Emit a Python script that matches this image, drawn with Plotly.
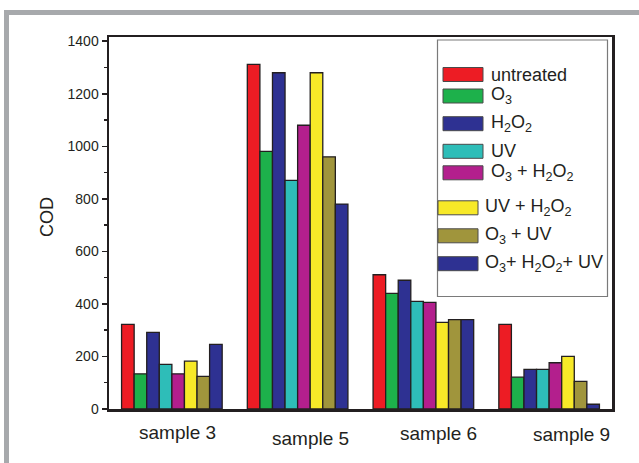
import plotly.graph_objects as go

categories = ["sample 3", "sample 5", "sample 6", "sample 9"]
series_names = ["untreated", "O3", "H2O2", "UV", "O3 + H2O2", "UV + H2O2", "O3 + UV", "O3+ H2O2+ UV"]
legend_labels = [
    "untreated",
    "O<sub>3</sub>",
    "H<sub>2</sub>O<sub>2</sub>",
    "UV",
    "O<sub>3</sub> + H<sub>2</sub>O<sub>2</sub>",
    "UV + H<sub>2</sub>O<sub>2</sub>",
    "O<sub>3</sub> + UV",
    "O<sub>3</sub>+ H<sub>2</sub>O<sub>2</sub>+ UV",
]
untreated = [322, 1312, 511, 322]
o3 = [134, 981, 440, 121]
h2o2 = [292, 1280, 490, 151]
uv = [170, 870, 410, 151]
o3_h2o2 = [134, 1080, 406, 176]
uv_h2o2 = [182, 1280, 330, 200]
o3_uv = [124, 960, 340, 105]
o3_h2o2_uv = [246, 780, 340, 18]
values = [untreated, o3, h2o2, uv, o3_h2o2, uv_h2o2, o3_uv, o3_h2o2_uv]
yticks = [0, 200, 400, 600, 800, 1000, 1200, 1400]

colors = ["#ed1c24", "#1db14b", "#2e3192", "#2ebdb8", "#b31f8d", "#f7e928", "#a0953c", "#2e3192"]
INK = "#231f20"
FONT = "Liberation Sans, Arial, sans-serif"

W, H = 639, 463
L, R, T, B = 109, 612, 37, 409


def px(xp):
    return (xp - L) / (R - L)


def py(yp):
    return (B - yp) / (B - T)


fig = go.Figure()
for name, vals, col in zip(series_names, values, colors):
    fig.add_trace(go.Bar(
        name=name, x=categories, y=vals,
        marker=dict(color=col, line=dict(color=INK, width=1.3)),
        showlegend=False,
    ))

shapes = []
annotations = []

# outer gray frame (top & left)
shapes.append(dict(type="rect", xref="paper", yref="paper",
                   x0=px(6.5), x1=px(700), y0=py(12.5), y1=py(520),
                   line=dict(color="#a7a9ac", width=5), fillcolor="rgba(0,0,0,0)", layer="below"))

# legend box
shapes.append(dict(type="rect", xref="paper", yref="paper",
                   x0=px(437.5), x1=px(607.5), y0=py(40), y1=py(296.5),
                   line=dict(color="#7a7a7a", width=1.2), fillcolor="white"))

leg_rows = [74.5, 96, 123.7, 151.3, 172.8, 207.8, 235.8, 263.7]
leg_sw_x0 = [443, 443, 443, 443, 443, 438, 438, 438]
leg_txt_x = [488.5, 488.5, 488.5, 488.5, 488.5, 483, 483, 483]
for lab, col, yc, sx, tx in zip(legend_labels, colors, leg_rows, leg_sw_x0, leg_txt_x):
    shapes.append(dict(type="rect", xref="paper", yref="paper",
                       x0=px(sx), x1=px(sx + 40), y0=py(yc - 7), y1=py(yc + 7),
                       line=dict(color="#4a4a4a", width=1), fillcolor=col))
    annotations.append(dict(xref="paper", yref="paper", x=px(tx), y=py(yc),
                            xanchor="left", yanchor="middle", showarrow=False,
                            text=lab, font=dict(family=FONT, size=18, color=INK)))

# category labels
lab_dx = [6, 13, 15, 22]
lab_dy = [23, 29, 24, 25]
for cat, dx, dy in zip(categories, lab_dx, lab_dy):
    annotations.append(dict(xref="x", yref="y", x=cat, y=0, xshift=dx, yshift=-dy,
                            xanchor="center", yanchor="middle", showarrow=False,
                            text=cat, font=dict(family=FONT, size=19, color=INK)))

# y-axis title
annotations.append(dict(xref="paper", yref="paper", x=px(47), y=py(217),
                        xanchor="center", yanchor="middle", showarrow=False, textangle=-90,
                        text="COD", font=dict(family=FONT, size=18, color=INK)))

fig.update_layout(
    width=W, height=H,
    margin=dict(l=L, r=W - R, t=T, b=H - B, pad=0),
    paper_bgcolor="white", plot_bgcolor="white",
    barmode="group", bargap=0.2, bargroupgap=0,
    font=dict(family=FONT, color=INK, size=14),
    shapes=shapes, annotations=annotations,
    showlegend=False,
)
fig.update_xaxes(showticklabels=False, ticks="", showgrid=False, zeroline=False,
                 showline=True, linecolor=INK, linewidth=2.5, mirror=True)
fig.update_yaxes(range=[0, 1416], tickvals=yticks, ticks="outside", ticklen=5, tickwidth=1.5,
                 tickcolor=INK, showgrid=False, zeroline=False,
                 showline=True, linecolor=INK, linewidth=2.5, mirror=True,
                 tickfont=dict(family=FONT, size=14, color=INK),
                 minor=dict(dtick=100, ticks="outside", ticklen=3, tickwidth=1.5, tickcolor=INK, showgrid=False))

fig.write_html("out.html", config={"displayModeBar": False, "staticPlot": True},
               post_script="document.body.style.margin='0px';document.body.style.overflow='hidden';")
